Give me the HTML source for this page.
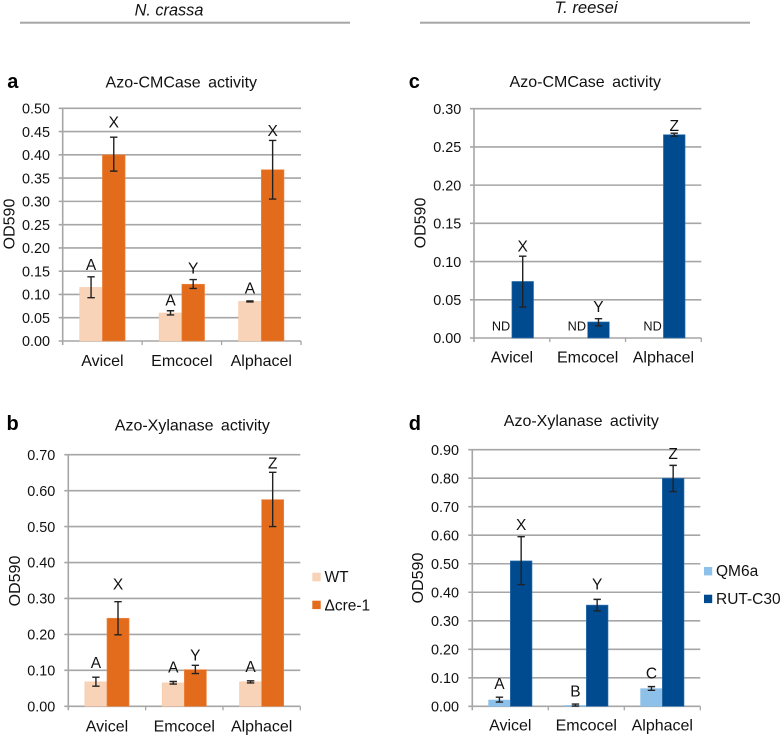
<!DOCTYPE html>
<html lang="en">
<head>
<meta charset="utf-8">
<title>Azo-CMCase and Azo-Xylanase activity</title>
<style>
html,body{margin:0;padding:0;background:#fff;}
svg{display:block;}
text{font-family:"Liberation Sans",Arial,sans-serif;fill:#111;}
</style>
</head>
<body>
<svg id="figure" xmlns="http://www.w3.org/2000/svg" width="784" height="736" viewBox="0 0 784 736">
  <text x="169" y="15.5" text-anchor="middle" font-size="16.3" font-style="italic">N. crassa</text>
  <rect x="20" y="21.7" width="330" height="2" fill="#a6a6a6"/>
  <text x="586" y="13" text-anchor="middle" font-size="16.6" font-style="italic">T. reesei</text>
  <rect x="420" y="21.7" width="330" height="2" fill="#a6a6a6"/>

  <rect x="312.3" y="572.7" width="8.4" height="8.6" fill="#f9d3b8"/>
  <text x="324.5" y="582" font-size="15.5">WT</text>
  <rect x="312.3" y="600.7" width="8.4" height="8.4" fill="#e36c1c"/>
  <text x="324.5" y="610.5" font-size="15.5">Δcre-1</text>

  <rect x="704" y="567" width="8.2" height="8.4" fill="#8ec1ea"/>
  <text x="716" y="576" font-size="15.5">QM6a</text>
  <rect x="704" y="594.7" width="8.2" height="8.4" fill="#004b8f"/>
  <text x="716" y="604" font-size="15.5">RUT-C30</text>
</svg>
<script>
var categories = ['Avicel', 'Emcocel', 'Alphacel'];

// Panel a
var aTicks = ['0.00','0.05','0.10','0.15','0.20','0.25','0.30','0.35','0.40','0.45','0.50'];
var aWt = [0.115, 0.060, 0.085];
var aWtHigh = [0.138, 0.065, 0.086];
var aWtLow = [0.093, 0.056, 0.084];
var aKo = [0.400, 0.122, 0.368];
var aKoHigh = [0.438, 0.132, 0.431];
var aKoLow = [0.365, 0.113, 0.305];
var aWtLetters = ['A', 'A', 'A'];
var aWtLetterAt = [0.153, 0.076, 0.102];
var aKoLetters = ['X', 'Y', 'X'];
var aKoLetterAt = [0.459, 0.145, 0.440];

// Panel b
var bTicks = ['0.00','0.10','0.20','0.30','0.40','0.50','0.60','0.70'];
var bWt = [0.068, 0.065, 0.068];
var bWtHigh = [0.081, 0.069, 0.071];
var bWtLow = [0.056, 0.062, 0.065];
var bKo = [0.245, 0.102, 0.575];
var bKoHigh = [0.291, 0.114, 0.651];
var bKoLow = [0.199, 0.091, 0.500];
var bWtLetters = ['A', 'A', 'A'];
var bWtLetterAt = [0.107, 0.094, 0.096];
var bKoLetters = ['X', 'Y', 'Z'];
var bKoLetterAt = [0.325, 0.127, 0.662];

// Panel c
var cTicks = ['0.00','0.05','0.10','0.15','0.20','0.25','0.30'];
var cRut = [0.074, 0.021, 0.266];
var cRutHigh = [0.107, 0.0253, 0.268];
var cRutLow = [0.0405, 0.016, 0.264];
var cQmLetters = ['ND', 'ND', 'ND'];
var cQmLetterAt = [0.0096, 0.0096, 0.0096];
var cRutLetters = ['X', 'Y', 'Z'];
var cRutLetterAt = [0.113, 0.034, 0.271];

// Panel d
var dTicks = ['0.00','0.10','0.20','0.30','0.40','0.50','0.60','0.70','0.80','0.90'];
var dQm = [0.022, 0.003, 0.062];
var dQmHigh = [0.032, 0.008, 0.069];
var dQmLow = [0.015, 0.001, 0.056];
var dRut = [0.510, 0.355, 0.800];
var dRutHigh = [0.595, 0.375, 0.845];
var dRutLow = [0.427, 0.335, 0.753];
var dQmLetters = ['A', 'B', 'C'];
var dQmLetterAt = [0.061, 0.035, 0.097];
var dRutLetters = ['X', 'Y', 'Z'];
var dRutLetterAt = [0.619, 0.410, 0.868];

var WT = '#f9d3b8', KO = '#e36c1c', QM = '#8ec1ea', RUT = '#004b8f';

var panels = [
  { id:'a', title:'Azo-CMCase activity', left:62.7, right:301, top:108.3, bottom:341,
    tickRight:50, catY:366, yTitleX:14.5, yTitleY:224, letterX:7.3, letterY:88, titleX:181.3, titleY:87.7,
    ticks:aTicks,
    series:[
      {key:'wt', color:WT, edge:'#f8c8a8', values:aWt, high:aWtHigh, low:aWtLow, letters:aWtLetters, letterAt:aWtLetterAt},
      {key:'cre-1', color:KO, edge:'#ee8a4a', values:aKo, high:aKoHigh, low:aKoLow, letters:aKoLetters, letterAt:aKoLetterAt}
    ]},
  { id:'b', title:'Azo-Xylanase activity', left:68.3, right:300.3, top:454.7, bottom:706.3,
    tickRight:55.3, catY:731.3, yTitleX:20, yTitleY:581, letterX:6.5, letterY:430, titleX:192.3, titleY:430.7,
    ticks:bTicks,
    series:[
      {key:'wt', color:WT, edge:'#f8c8a8', values:bWt, high:bWtHigh, low:bWtLow, letters:bWtLetters, letterAt:bWtLetterAt},
      {key:'cre-1', color:KO, edge:'#ee8a4a', values:bKo, high:bKoHigh, low:bKoLow, letters:bKoLetters, letterAt:bKoLetterAt}
    ]},
  { id:'c', title:'Azo-CMCase activity', left:474, right:701.3, top:108.7, bottom:338,
    tickRight:461.3, catY:362.7, yTitleX:425.3, yTitleY:223, letterX:408.7, letterY:88, titleX:585.3, titleY:87,
    ticks:cTicks,
    series:[
      {key:'qm6a', color:QM, edge:QM, values:null, high:null, low:null, letters:cQmLetters, letterAt:cQmLetterAt, letterSize:12.7},
      {key:'rut-c30', color:RUT, edge:'#3a78b5', values:cRut, high:cRutHigh, low:cRutLow, letters:cRutLetters, letterAt:cRutLetterAt}
    ]},
  { id:'d', title:'Azo-Xylanase activity', left:472.3, right:700.3, top:449.7, bottom:706.3,
    tickRight:459, catY:730.7, yTitleX:423, yTitleY:578, letterX:408.7, letterY:430, titleX:581.3, titleY:426,
    ticks:dTicks,
    series:[
      {key:'qm6a', color:QM, edge:QM, values:dQm, high:dQmHigh, low:dQmLow, letters:dQmLetters, letterAt:dQmLetterAt},
      {key:'rut-c30', color:RUT, edge:'#3a78b5', values:dRut, high:dRutHigh, low:dRutLow, letters:dRutLetters, letterAt:dRutLetterAt}
    ]}
];

var SVGNS = 'http://www.w3.org/2000/svg';
var root = document.getElementById('figure');

function make(parent, tag, props, content) {
  var node = document.createElementNS(SVGNS, tag);
  for (var k in props) node.setAttribute(k, props[k]);
  if (content !== undefined) node.textContent = content;
  parent.appendChild(node);
  return node;
}

panels.forEach(function (p) {
  var maxV = parseFloat(p.ticks[p.ticks.length - 1]);
  var yScale = function (v) { return p.bottom - (v / maxV) * (p.bottom - p.top); };
  var catW = (p.right - p.left) / categories.length;
  var barW = catW / 3.5;
  var xBar = function (c, s) { return p.left + c * catW + catW / 2 - barW + s * barW; };

  var g = make(root, 'g', {});
  
  

  var pl = make(g, 'text', {x:p.letterX, y:p.letterY, 'font-size':20, 'font-weight':'bold', style:'fill:#000'}, p.id);
  
  

  var ti = make(g, 'text', {x:p.titleX, y:p.titleY, 'text-anchor':'middle', 'font-size':16, 'word-spacing':'3px'}, p.title);
  
  

  var yt = make(g, 'text', {x:0, y:0, 'text-anchor':'middle', 'font-size':16,
    transform:'translate(' + p.yTitleX + ',' + p.yTitleY + ') rotate(-90)'}, 'OD590');
  
  

  p.ticks.forEach(function (t, i) {
    var v = parseFloat(t), y = yScale(v);
    var gl = make(g, 'line', {x1:p.left - 4, x2:p.right, y1:y, y2:y, stroke:'#a6a6a6', 'stroke-width':1.6});
    
    
    var tl = make(g, 'text', {x:p.tickRight, y:y + 5.2, 'text-anchor':'end', 'font-size':14.4}, t);
    
    
  });

  var ya = make(g, 'line', {x1:p.left, x2:p.left, y1:p.top, y2:p.bottom + 4, stroke:'#a6a6a6', 'stroke-width':1.6});
  
  

  for (var c = 1; c <= categories.length; c++) {
    var tx = p.left + c * catW;
    var tk = make(g, 'line', {x1:tx, x2:tx, y1:p.bottom, y2:p.bottom + 4, stroke:'#a6a6a6', 'stroke-width':1.3});
    
    
  }

  categories.forEach(function (name, c) {
    var cl = make(g, 'text', {x:p.left + c * catW + catW / 2, y:p.catY, 'text-anchor':'middle', 'font-size':16}, name);
    
    
  });

  p.series.forEach(function (s, si) {
    categories.forEach(function (name, c) {
      var x = xBar(c, si);
      if (s.values) {
        var yTop = yScale(s.values[c]);
        var bar = make(g, 'rect', {x:x, y:yTop, width:barW, height:p.bottom - yTop, fill:s.color, stroke:s.edge, 'stroke-width':0.6});
        
        
      }
    });
  });

  p.series.forEach(function (s, si) {
    categories.forEach(function (name, c) {
      var cx = xBar(c, si) + barW / 2;
      if (s.high) {
        var yh = yScale(s.high[c]), yl = yScale(s.low[c]);
        var eb = make(g, 'path', {d:'M' + (cx - 3.7) + ' ' + yh + 'H' + (cx + 3.7) + 'M' + cx + ' ' + yh + 'V' + yl + 'M' + (cx - 3.7) + ' ' + yl + 'H' + (cx + 3.7),
          fill:'none', stroke:'#222', 'stroke-width':1.4});
        
        
      }
      var lb = make(g, 'text', {x:cx, y:yScale(s.letterAt[c]), 'text-anchor':'middle', 'font-size':s.letterSize || 15.5}, s.letters[c]);
      
      
    });
  });
});
</script>
</body>
</html>
